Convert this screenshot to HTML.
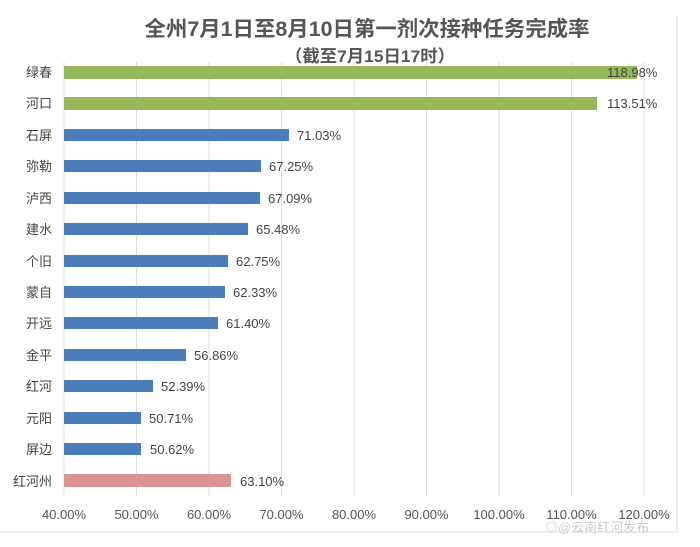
<!DOCTYPE html><html><head><meta charset="utf-8"><style>
body{margin:0;background:#fff;font-family:"Liberation Sans","Noto Sans CJK SC",sans-serif;}
svg text{font-family:"Liberation Sans","Noto Sans CJK SC",sans-serif;}
</style></head><body>
<svg width="700" height="542" viewBox="0 0 700 542">
<rect width="700" height="542" fill="#fff"/>
<line x1="677" y1="15" x2="677" y2="532" stroke="#ddd"/>
<line x1="0" y1="532" x2="677" y2="532" stroke="#ddd"/>
<text x="367" y="36" text-anchor="middle" font-size="21" font-weight="bold" fill="#555" textLength="445" lengthAdjust="spacingAndGlyphs">全州7月1日至8月10日第一剂次接种任务完成率</text>
<text x="370" y="62" text-anchor="middle" font-size="17" font-weight="bold" fill="#555" textLength="170" lengthAdjust="spacingAndGlyphs">（截至7月15日17时）</text>
<g stroke="#ddd">
<line x1="64" y1="62" x2="64" y2="496"/><line x1="136.5" y1="62" x2="136.5" y2="496"/><line x1="209" y1="62" x2="209" y2="496"/><line x1="281.5" y1="62" x2="281.5" y2="496"/><line x1="354" y1="62" x2="354" y2="496"/><line x1="426.5" y1="62" x2="426.5" y2="496"/><line x1="499" y1="62" x2="499" y2="496"/><line x1="571.5" y1="62" x2="571.5" y2="496"/><line x1="644" y1="62" x2="644" y2="496"/>
</g>
<g font-size="13" fill="#555">
<text x="64" y="519" text-anchor="middle">40.00%</text><text x="136.5" y="519" text-anchor="middle">50.00%</text><text x="209" y="519" text-anchor="middle">60.00%</text><text x="281.5" y="519" text-anchor="middle">70.00%</text><text x="354" y="519" text-anchor="middle">80.00%</text><text x="426.5" y="519" text-anchor="middle">90.00%</text><text x="499" y="519" text-anchor="middle">100.00%</text><text x="571.5" y="519" text-anchor="middle">110.00%</text><text x="644" y="519" text-anchor="middle">120.00%</text>
</g>
<g font-size="13" fill="#444">
<rect x="64" y="66" width="573" height="13" fill="#94b85a"/><text x="52" y="77" text-anchor="end">绿春</text><text x="607" y="77">118.98%</text>
<rect x="64" y="97" width="533" height="13" fill="#94b85a"/><text x="52" y="108" text-anchor="end">河口</text><text x="607" y="108">113.51%</text>
<rect x="64" y="129" width="225" height="12" fill="#4a7ebb"/><text x="52" y="140" text-anchor="end">石屏</text><text x="297" y="140">71.03%</text>
<rect x="64" y="160" width="197" height="12" fill="#4a7ebb"/><text x="52" y="171" text-anchor="end">弥勒</text><text x="269" y="171">67.25%</text>
<rect x="64" y="192" width="196" height="12" fill="#4a7ebb"/><text x="52" y="203" text-anchor="end">泸西</text><text x="268" y="203">67.09%</text>
<rect x="64" y="223" width="184" height="12" fill="#4a7ebb"/><text x="52" y="234" text-anchor="end">建水</text><text x="256" y="234">65.48%</text>
<rect x="64" y="255" width="164" height="12" fill="#4a7ebb"/><text x="52" y="266" text-anchor="end">个旧</text><text x="236" y="266">62.75%</text>
<rect x="64" y="286" width="161" height="12" fill="#4a7ebb"/><text x="52" y="297" text-anchor="end">蒙自</text><text x="233" y="297">62.33%</text>
<rect x="64" y="317" width="154" height="12" fill="#4a7ebb"/><text x="52" y="328" text-anchor="end">开远</text><text x="226" y="328">61.40%</text>
<rect x="64" y="349" width="122" height="12" fill="#4a7ebb"/><text x="52" y="360" text-anchor="end">金平</text><text x="194" y="360">56.86%</text>
<rect x="64" y="380" width="89" height="12" fill="#4a7ebb"/><text x="52" y="391" text-anchor="end">红河</text><text x="161" y="391">52.39%</text>
<rect x="64" y="412" width="77" height="12" fill="#4a7ebb"/><text x="52" y="423" text-anchor="end">元阳</text><text x="149" y="423">50.71%</text>
<rect x="64" y="443" width="77" height="12" fill="#4a7ebb"/><text x="52" y="454" text-anchor="end">屏边</text><text x="150" y="454">50.62%</text>
<rect x="64" y="474" width="167" height="13" fill="#d99594"/><text x="52" y="486" text-anchor="end">红河州</text><text x="240" y="486">63.10%</text>
</g>
<text x="545" y="532" font-size="13" fill="#ccc">◎@云南红河发布</text>
</svg>
</body></html>
